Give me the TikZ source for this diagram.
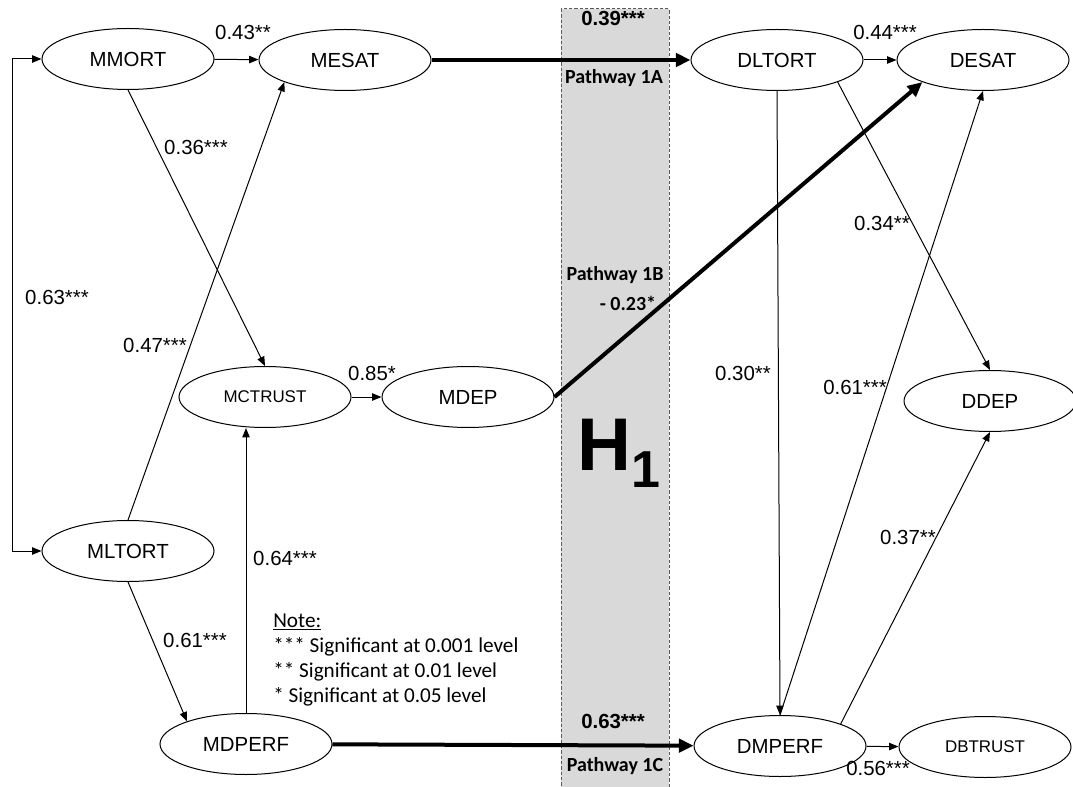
\documentclass[tikz,border=0pt]{standalone}
\usepackage{fontspec}
\setmainfont{Liberation Sans}
\newfontfamily\calibri{Carlito}
\usetikzlibrary{arrows.meta, shapes.geometric}
\definecolor{bandgray}{HTML}{D9D9D9}
\definecolor{bandedge}{HTML}{595959}

\begin{document}
\begin{tikzpicture}[
  x=0.75pt, y=-0.75pt,
  every node/.style={inner sep=0pt},
  lat/.style     ={ellipse, draw, line width=0.75pt, minimum width=129pt, minimum height=45.75pt, font=\fontsize{15.3}{18}\selectfont},
  latsm/.style   ={lat, font=\fontsize{12.7}{15}\selectfont},
  link/.style    ={-{Triangle[length=7pt, width=5.5pt]}, line width=0.75pt},
  bilink/.style  ={{Triangle[length=7pt, width=5.5pt]}-{Triangle[length=7pt, width=5.5pt]}, line width=0.75pt},
  mainlink/.style={-{Triangle[length=11pt, width=10pt]}, line width=3pt},
  coef/.style    ={font=\fontsize{15.3}{18}\selectfont},
  bcoef/.style   ={font=\bfseries\fontsize{15.3}{18}\selectfont},
  pathway/.style ={font=\calibri\bfseries\fontsize{15}{18}\selectfont},
  notetxt/.style ={anchor=west, font=\calibri\fontsize{15.9}{19}\selectfont}
]
\useasboundingbox (0,0) rectangle (1073,787);

% hypothesis band
\draw[fill=bandgray, draw=bandedge, line width=0.75pt, dash pattern=on 2.5pt off 1.5pt] (561,9) rectangle (669,800);
\node[anchor=base west] (H1) at (577,470)
  {\fontsize{56}{56}\selectfont\bfseries H\raisebox{-12.75pt}{\fontsize{39}{39}\selectfont 1}};

% latent variables
\node[lat]   (MMORT)   at (128,59)  {MMORT};
\node[lat]   (MESAT)   at (345,60)  {MESAT};
\node[lat]   (DLTORT)  at (777,60)  {DLTORT};
\node[lat]   (DESAT)   at (983,60)  {DESAT};
\node[latsm] (MCTRUST) at (265,397) {MCTRUST};
\node[lat]   (MDEP)    at (468,397) {MDEP};
\node[lat]   (DDEP)    at (990,401) {DDEP};
\node[lat]   (MLTORT)  at (128,551) {MLTORT};
\node[lat]   (MDPERF)  at (246,744) {MDPERF};
\node[lat]   (DMPERF)  at (780,746) {DMPERF};
\node[latsm] (DBTRUST) at (985,747) {DBTRUST};

% paths
\draw[link]     (MMORT) -- (MESAT);
\draw[mainlink] (MESAT) -- (DLTORT);
\draw[link]     (DLTORT) -- (DESAT);
\draw[link]     (MMORT.south) -- (MCTRUST.north);
\draw[link]     (MLTORT.north) -- (MESAT.200);
\draw[bilink]   (MMORT.west) -- ++(-29,0) |- (MLTORT.west);
\draw[link]     (MCTRUST) -- (MDEP);
\draw[mainlink] (MDEP.east) -- (DESAT.200);
\draw[link]     (MDPERF.north) -- (MDPERF.north |- MCTRUST.south);
\draw[link]     (MLTORT.south) -- (MDPERF.159);
\draw[mainlink] (MDPERF) -- (DMPERF);
\draw[link]     (DMPERF) -- (DBTRUST);
\draw[link]     (DLTORT.south) -- (DMPERF.north);
\draw[link]     (DLTORT.340) -- (DDEP.north);
\draw[link]     (DMPERF.north) -- (DESAT.south);
\draw[link]     (DMPERF.20) -- (DDEP.south);

% coefficients
\node[coef]  (c43)  at (243,32)  {0.43**};
\node[bcoef] (c39)  at (613,18)  {0.39***};
\node[pathway] (p1A) at (614,78) {Pathway 1A};
\node[coef]  (c44)  at (885,32)  {0.44***};
\node[coef]  (c36)  at (196,147) {0.36***};
\node[coef]  (c47)  at (155,345) {0.47***};
\node[coef]  (c63a) at (57,297)  {0.63***};
\node[coef]  (c85)  at (372,373) {0.85*};
\node[pathway] (p1B) at (615,275) {Pathway 1B};
\node[pathway] (c23) at (628,303) {- 0.23*};
\node[coef]  (c64)  at (285,558) {0.64***};
\node[coef]  (c61a) at (195,640) {0.61***};
\node[bcoef] (c63b) at (613,721) {0.63***};
\node[pathway] (p1C) at (615,766) {Pathway 1C};
\node[coef]  (c56)  at (878,768) {0.56***};
\node[coef]  (c30)  at (743,373) {0.30**};
\node[coef]  (c34)  at (882,223) {0.34**};
\node[coef]  (c61b) at (855,387) {0.61***};
\node[coef]  (c37)  at (908,537) {0.37**};

% note
\node[notetxt] (note1) at (273,622) {\underline{Note:}};
\node[notetxt] (note2) at (273,647) {*** Significant at 0.001 level};
\node[notetxt] (note3) at (273,672) {** Significant at 0.01 level};
\node[notetxt] (note4) at (273,697) {* Significant at 0.05 level};

\end{tikzpicture}
\end{document}
